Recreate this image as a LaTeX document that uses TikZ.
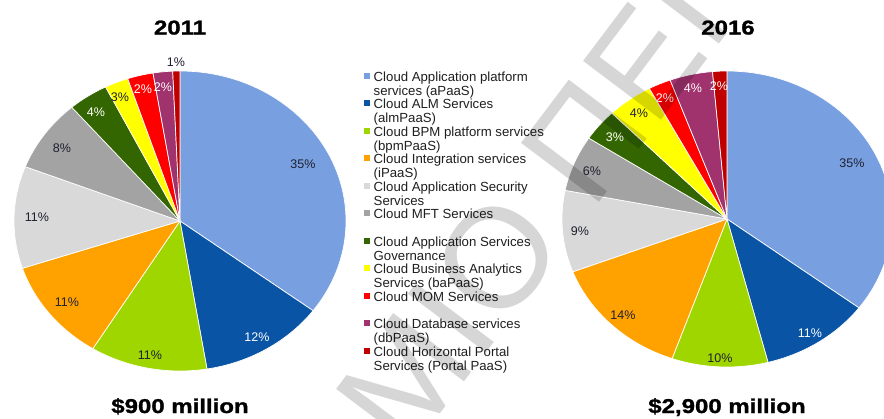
\documentclass[tikz,border=0pt]{standalone}
\usepackage{fontspec}
\setmainfont{Liberation Sans}
\newfontfamily\headfont[FakeBold=1.2]{Liberation Sans Bold}

% slice colours
\definecolor{apaas}{RGB}{120,160,224}
\definecolor{alm}{RGB}{10,84,165}
\definecolor{bpm}{RGB}{160,214,0}
\definecolor{ipaas}{RGB}{255,162,0}
\definecolor{secur}{RGB}{217,217,217}
\definecolor{mft}{RGB}{163,163,163}
\definecolor{gov}{RGB}{51,102,0}
\definecolor{bapaas}{RGB}{255,255,0}
\definecolor{mom}{RGB}{255,0,0}
\definecolor{dbpaas}{RGB}{160,50,110}
\definecolor{portal}{RGB}{192,0,0}
\definecolor{labeldark}{RGB}{30,32,48}

\begin{document}
\begin{tikzpicture}[x=1pt,y=1pt,
  slice/.style={draw=white, line width=0.7pt, line join=round},
  pct/.style={font=\fontsize{12.5}{14}\selectfont, inner sep=0pt},
  pctdark/.style={pct, text=labeldark},
  pctlight/.style={pct, text=white},
  lgtext/.style={font=\fontsize{13.2}{14}\selectfont, anchor=base west, inner sep=0pt, text=black!88},
  lgbox/.style={minimum size=6pt, inner sep=0pt},
  headline/.style={font=\fontsize{20}{24}\headfont, inner sep=0pt, anchor=base},
  wmark/.style={font=\fontsize{142}{142}\selectfont, text=black, text opacity=0.16, inner sep=0pt, rotate=53}
]
\path[use as bounding box] (0,0) rectangle (884,-418);
\clip (0,0) rectangle (884,-418);
\fill[white] (0,0) rectangle (884,-418);

% ---------- 2011 pie ----------
\coordinate (cL) at (180,-221);
\foreach \a/\b/\col in {0/35.2/apaas, 35.2/47.4/alm, 47.4/58.8/bpm, 58.8/69.9/ipaas,
  69.9/80.9/secur, 80.9/88.7/mft, 88.7/92.6/gov, 92.6/94.9/bapaas,
  94.9/97.4/mom, 97.4/99.3/dbpaas, 99.3/100/portal}
  \filldraw[slice, fill=\col] (cL) -- ++({90-3.6*\a}:166 and 150)
    arc[start angle={90-3.6*\a}, end angle={90-3.6*\b}, x radius=166, y radius=150] -- cycle;

\node[pctdark]  (pL1)  at (303,-164) {35\%};
\node[pctlight] (pL2)  at (257,-337) {12\%};
\node[pctdark]  (pL3)  at (150,-355) {11\%};
\node[pctdark]  (pL4)  at (67,-302)  {11\%};
\node[pctdark]  (pL5)  at (37,-217)  {11\%};
\node[pctdark]  (pL6)  at (62,-148)  {8\%};
\node[pctlight] (pL7)  at (96,-112)  {4\%};
\node[pctdark]  (pL8)  at (120,-97)  {3\%};
\node[pctlight] (pL9)  at (143,-89)  {2\%};
\node[pctlight] (pL10) at (163,-87)  {2\%};
\node[pctdark]  (pL11) at (176,-62)  {1\%};

\node[headline] (tL) at (180,-34.5) {\scalebox{1.2}[1]{2011}};
\node[headline] (vL) at (180,-413) {\scalebox{1.2}[1]{\$900 million}};

% ---------- 2016 pie ----------
\coordinate (cR) at (727,-219);
\foreach \a/\b/\col in {0/35.25/apaas, 35.25/46.0/alm, 46.0/55.4/bpm, 55.4/69.2/ipaas,
  69.2/78.1/secur, 78.1/84.2/mft, 84.2/87.7/gov, 87.7/92.2/bapaas,
  92.2/94.4/mom, 94.4/98.6/dbpaas, 98.6/100/portal}
  \filldraw[slice, fill=\col] (cR) -- ++({90-3.6*\a}:165 and 148)
    arc[start angle={90-3.6*\a}, end angle={90-3.6*\b}, x radius=165, y radius=148] -- cycle;

\node[pctdark]  (pR1)  at (852,-163) {35\%};
\node[pctlight] (pR2)  at (810,-333) {11\%};
\node[pctdark]  (pR3)  at (720,-358) {10\%};
\node[pctdark]  (pR4)  at (623,-315) {14\%};
\node[pctdark]  (pR5)  at (580,-231) {9\%};
\node[pctdark]  (pR6)  at (592,-171) {6\%};
\node[pctlight] (pR7)  at (615,-137) {3\%};
\node[pctdark]  (pR8)  at (639,-113) {4\%};
\node[pctlight] (pR9)  at (665,-98)  {2\%};
\node[pctlight] (pR10) at (693,-88)  {4\%};
\node[pctlight] (pR11) at (719,-86)  {2\%};

\node[headline] (tR) at (728,-34.5) {\scalebox{1.2}[1]{2016}};
\node[headline] (vR) at (727,-413) {\scalebox{1.2}[1]{\$2,900 million}};

% ---------- legend ----------
\foreach \i/\yc/\col/\la/\lb in {
  1/76.7/apaas/Cloud Application platform/services (aPaaS),
  2/104.3/alm/Cloud ALM Services/(almPaaS),
  3/131.7/bpm/Cloud BPM platform services/(bpmPaaS),
  4/159.3/ipaas/Cloud Integration services/(iPaaS),
  5/187.3/secur/Cloud Application Security/Services,
  6/214.3/mft/Cloud MFT Services/{},
  7/241.7/gov/Cloud Application Services/Governance,
  8/269.3/bapaas/Cloud Business Analytics/Services (baPaaS),
  9/297/mom/Cloud MOM Services/{},
  10/324.3/dbpaas/Cloud Database services/(dbPaaS),
  11/352/portal/Cloud Horizontal Portal/Services (Portal PaaS)}
{
  \node[lgbox, fill=\col] (lgM\i) at (366.5,{-\yc+1}) {};
  \node[lgtext] (lgA\i) at (373.5,{-\yc-4.5}) {\la};
  \node[lgtext] (lgB\i) at (373.5,{-\yc-18.3}) {\lb};
}

% ---------- watermark ----------
\node[wmark] (wmO) at (497,-258) {Ο};
\node[wmark, anchor=base east] (wmMI) at (wmO.base west) {ΜΙ};
\node[wmark, anchor=base west] (wmPEI) at ([shift={(53:39)}]wmO.base east) {ΠΕΙ};
\end{tikzpicture}
\end{document}
